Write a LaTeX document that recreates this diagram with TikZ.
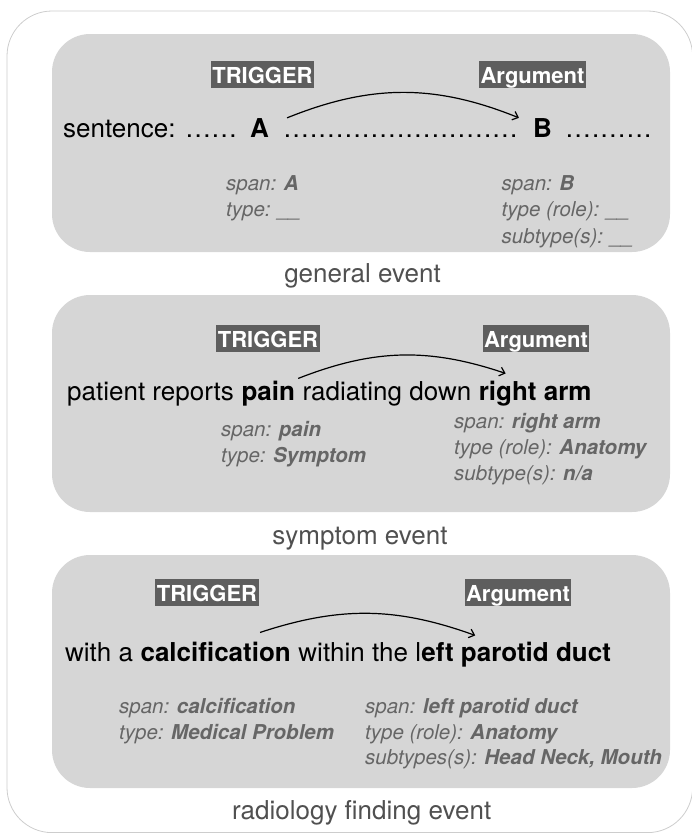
\documentclass[tikz,border=0pt]{standalone}
\usepackage{fontspec}
\setmainfont{TeX Gyre Heros}
\usetikzlibrary{positioning,arrows.meta}

\definecolor{panelgray}{HTML}{D6D6D6}
\definecolor{tagfill}{HTML}{5E5E5E}
\definecolor{infogray}{HTML}{666666}
\definecolor{capgray}{HTML}{505050}
\definecolor{framegray}{HTML}{CDCDCD}

% spaced dots of the sample sentence
\newdimen\dotw \dotw=8.7pt
\newcount\dotn
\newcommand\dotrun[1]{\dotn=0 \loop\hbox to\dotw{\hss.\hss}\advance\dotn by 1 \ifnum\dotn<#1\repeat}

\tikzset{
  panel/.style={fill=panelgray, rounded corners=38pt},
  tag/.style={fill=tagfill, text=white, font=\fontsize{22}{22}\selectfont\bfseries,
    inner xsep=1.5pt, inner ysep=3pt, text height=19pt, text depth=2pt, anchor=base},
  word/.style={inner sep=0pt, font=\fontsize{26}{26}\selectfont},
  keyword/.style={inner sep=0pt, font=\fontsize{26}{26}\selectfont\bfseries},
  info/.style={inner sep=0pt, text=infogray, font=\fontsize{20.5}{26}\selectfont\itshape, anchor=base west},
  caption/.style={inner sep=0pt, text=capgray, font=\fontsize{26}{26}\selectfont, anchor=base},
  link/.style={-{Straight Barb[length=5pt,width=9pt]}, line width=1.2pt}
}

\begin{document}
\begin{tikzpicture}[x=1pt, y=-1pt]
\useasboundingbox (0,0) rectangle (692,833);
\draw[framegray, line width=0.8pt, rounded corners=45pt] (7,11) rectangle (692.6,832.6);

% general event
\fill[panel] (52,34) rectangle (670,252);
\node[tag] (trig1) at (262.5,83) {TRIGGER};
\node[tag] (arg1) at (532.5,83) {Argument};
\node[word, anchor=base west] (sent1) at (63,137) {sentence: \dotrun{6}};
\node[keyword, anchor=base] (wA) at (259.5,137) {A};
\node[word, anchor=base west] (gap1) at (283,137) {\dotrun{27}};
\node[keyword, anchor=base] (wB) at (542.5,137) {B};
\node[word, anchor=base west] (tail1) at (565,137) {\dotrun{10}};
\draw[link] ([xshift=18pt]wA.north east) to[bend left=22] ([xshift=-14pt]wB.north west);
\node[info] (spanA) at (226,190) {span: \textbf{A}};
\node[info] (typeA) at (226,216.5) {type: \_\_};
\node[info] (spanB) at (501.5,190) {span: \textbf{B}};
\node[info] (roleB) at (501.5,216.5) {type (role): \_\_};
\node[info] (subB) at (501.5,243) {subtype(s): \_\_};
\node[caption] (cap1) at (362.5,282.5) {general event};

% symptom event
\fill[panel] (52,295) rectangle (670,512);
\node[tag] (trig2) at (268,347) {TRIGGER};
\node[tag] (arg2) at (536,347) {Argument};
\node[word, anchor=base west] (pre2) at (67,400) {patient reports};
\node[keyword, base right=7.2pt of pre2] (pain) {pain};
\node[word, base right=7.2pt of pain] (mid2) {radiating down};
\node[keyword, base right=7.2pt of mid2] (rarm) {right arm};
\draw[link] ([xshift=3pt,yshift=2pt]pain.north east) to[bend left=20] ([xshift=27pt,yshift=7pt]rarm.north west);
\node[info] (spanP) at (221,436) {span: \textbf{pain}};
\node[info] (typeP) at (221,462) {type: \textbf{Symptom}};
\node[info] (spanR) at (454,428) {span: \textbf{right arm}};
\node[info] (roleR) at (454,454) {type (role): \textbf{Anatomy}};
\node[info] (subR) at (454,480) {subtype(s): \textbf{n/a}};
\node[caption] (cap2) at (360,544) {symptom event};

% radiology finding event
\fill[panel] (52,555) rectangle (670,788);
\node[tag] (trig3) at (207,601) {TRIGGER};
\node[tag] (arg3) at (518,601) {Argument};
\node[word, anchor=base west] (pre3) at (65,661) {with a};
\node[keyword, base right=7.2pt of pre3] (calc) {calcification};
\node[word, base right=7.2pt of calc] (mid3) {within the l};
\node[keyword, base right=0pt of mid3] (duct) {eft parotid duct};
\draw[link] ([xshift=-31pt,yshift=9pt]calc.north east) to[bend left=19] ([xshift=54pt,yshift=6pt]duct.north west);
\node[info] (spanC) at (119,713) {span: \textbf{calcification}};
\node[info] (typeC) at (119,739) {type: \textbf{Medical Problem}};
\node[info] (spanD) at (365,713) {span: \textbf{left parotid duct}};
\node[info] (roleD) at (365,739) {type (role): \textbf{Anatomy}};
\node[info] (subD) at (365,764) {subtypes(s): \textbf{Head Neck, Mouth}};
\node[caption] (cap3) at (361.7,819) {radiology finding event};
\end{tikzpicture}
\end{document}
